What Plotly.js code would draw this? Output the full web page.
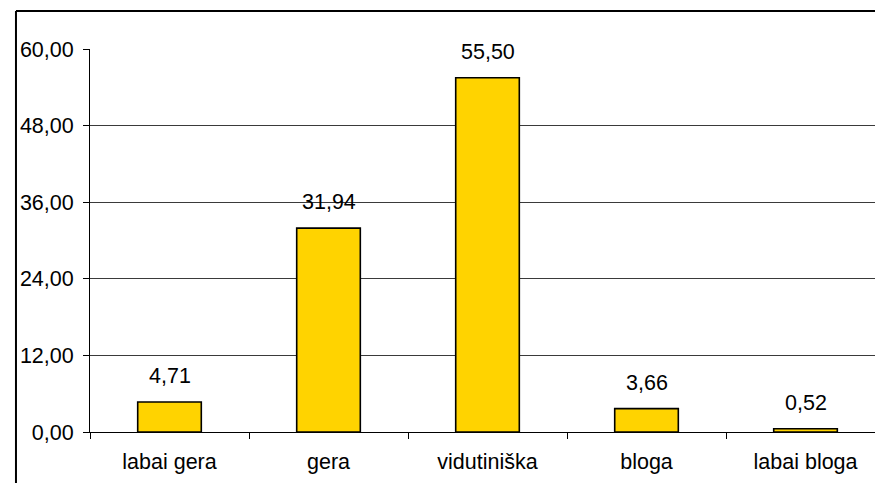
<!DOCTYPE html>
<html>
<head>
<meta charset="utf-8">
<script src="https://cdn.plot.ly/plotly-3.0.1.min.js"></script>
<style>html,body{margin:0;padding:0;background:#fff;}#chart{width:875px;height:483px;}</style>
</head>
<body>
<div id="chart"></div>
<script>
const categories = ["labai gera", "gera", "vidutiniška", "bloga", "labai bloga"];
const values = [4.71, 31.94, 55.50, 3.66, 0.52];
const yTicks = [0, 12, 24, 36, 48, 60];

const fontFam = '"Liberation Sans", Arial, sans-serif';

const trace = {
  type: 'bar',
  x: categories,
  y: values,
  width: 0.40,
  marker: {color: '#FFD300', line: {color: '#000000', width: 1.6}},
  hoverinfo: 'none'
};

const annotations = values.map((v, i) => ({
  x: categories[i], y: v, xref: 'x', yref: 'y',
  text: v.toFixed(2).replace('.', ','),
  showarrow: false, yanchor: 'bottom', yshift: 12,
  font: {family: fontFam, size: 21.5, color: '#000'}
}));

const layout = {
  width: 875, height: 483,
  margin: {l: 90, r: 0, t: 49, b: 51, pad: 0},
  paper_bgcolor: '#fff', plot_bgcolor: '#fff',
  separators: ',.',
  showlegend: false,
  font: {family: fontFam, size: 21.5, color: '#000'},
  xaxis: {
    range: [-0.5, 4.437],
    type: 'category',
    showgrid: false, zeroline: false,
    showline: true, linecolor: '#000', linewidth: 1,
    ticks: 'outside', ticklen: 6, tickcolor: '#000', tickwidth: 1,
    tickson: 'boundaries',
    ticklabelstandoff: 10,
    tickfont: {family: fontFam, size: 21.5, color: '#000'}
  },
  yaxis: {
    range: [0, 60],
    tickvals: yTicks,
    ticktext: yTicks.map(t => t.toFixed(2).replace('.', ',')),
    showgrid: true, gridcolor: '#3a3a3a', gridwidth: 1,
    zeroline: false,
    showline: true, linecolor: '#000', linewidth: 1,
    ticks: 'outside', ticklen: 6, tickcolor: '#000', tickwidth: 1,
    ticklabelstandoff: 5,
    tickfont: {family: fontFam, size: 21.5, color: '#000'}
  },
  annotations: annotations,
  shapes: [
    {type: 'line', xref: 'paper', yref: 'paper', x0: -0.0943, x1: -0.0943, y0: -0.14, y1: 1.0992, line: {color: '#000', width: 2}},
    {type: 'line', xref: 'paper', yref: 'paper', x0: -0.0943, x1: 1.01, y0: 1.0992, y1: 1.0992, line: {color: '#000', width: 2}}
  ]
};

Plotly.newPlot('chart', [trace], layout, {displayModeBar: false, staticPlot: true});
</script>
</body>
</html>
